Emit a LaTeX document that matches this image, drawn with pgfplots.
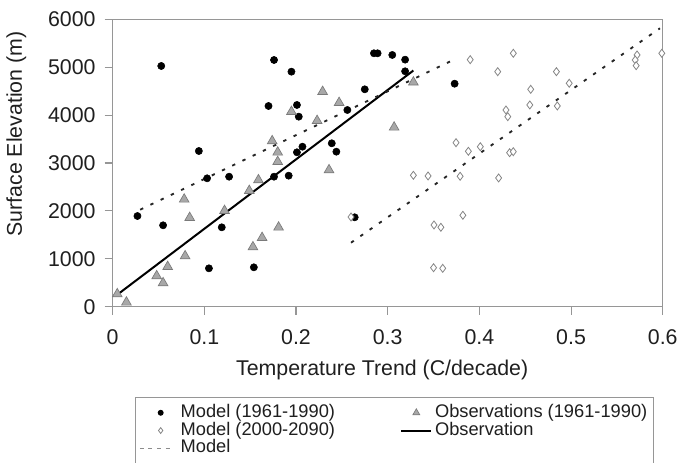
\documentclass[border=0pt]{standalone}
\usepackage{pgfplots}
\pgfplotsset{compat=1.18}
\usepackage{fontspec}
\setmainfont{Liberation Sans}
\definecolor{axgray}{HTML}{969696}
\definecolor{trifill}{HTML}{A8A8A8}
\definecolor{triedge}{HTML}{7A7A7A}
\definecolor{diaedge}{HTML}{858585}
\pgfplotsset{
  legcirc/.style={legend image code/.code={\draw[##1, mark size=1.8pt] plot coordinates {(15.7pt,0pt)}; \path (0pt,0pt) (28pt,0pt);}},
  legtri/.style={legend image code/.code={\draw[##1, mark size=3pt] plot coordinates {(11.2pt,0pt)}; \path (0pt,0pt) (22.5pt,0pt);}},
  legdia/.style={legend image code/.code={\draw[##1, mark size=2.2pt] plot coordinates {(15.7pt,0pt)}; \path (0pt,0pt) (28pt,0pt);}},
  legsolid/.style={legend image code/.code={\draw[##1] (0pt,0pt) -- (22.5pt,0pt);}},
  legdash/.style={legend image code/.code={\draw[black!45, line width=0.8pt, dash pattern=on 3pt off 3.5pt] (0pt,0pt) -- (25pt,0pt); \path (0pt,0pt) (28pt,0pt);}},
}
\begin{document}
\begin{tikzpicture}
\begin{axis}[
  at={(0pt,0pt)}, anchor=south west,
  scale only axis, width=412.5pt, height=215.55pt,
  xmin=0, xmax=0.6, ymin=0, ymax=6000,
  xtick={0,0.1,0.2,0.3,0.4,0.5,0.6},
  ytick={0,1000,2000,3000,4000,5000,6000},
  scaled x ticks=false, scaled y ticks=false,
  /pgf/number format/1000 sep={},
  /pgf/number format/assume math mode=true,
  tick align=outside, tick pos=left,
  major tick length=6pt,
  axis line style={axgray, line width=0.8pt},
  every tick/.style={axgray, line width=0.8pt},
  ticklabel style={font=\fontsize{16}{18}\selectfont, text=black!88},
  xticklabel style={yshift=-8pt},
  yticklabel style={xshift=-3.3pt},
  xlabel={Temperature Trend (C/decade)},
  ylabel={Surface Elevation (m)},
  label style={font=\fontsize{16}{19}\selectfont, text=black!88},
  xlabel style={at={(axis description cs:0.49,-0.2377)}, anchor=base},
  ylabel style={at={(axis description cs:-0.1753,0.601)}, anchor=center},
  legend columns=2,
  legend cell align=left,
  legend style={
    at={(axis description cs:0.0405,-0.3132)}, anchor=north west,
    draw=axgray, line width=0.8pt,
    font=\fontsize{13.7}{15}\selectfont,
    inner xsep=2.5pt, inner ysep=5pt,
    column sep=0pt, row sep=0pt,
    nodes={inner ysep=0.35pt, inner xsep=2pt, text height=9.8pt, text depth=2.8pt, text=black!88},
    /tikz/every even column/.append style={column sep=47pt},
  },
]
% Model (1961-1990)
\addplot[only marks, mark=*, mark size=2.7pt, black, legcirc]
coordinates {
(0.053,5025) (0.176,5150) (0.195,4906) (0.170,4190) (0.201,4211)
(0.203,3967) (0.094,3250) (0.201,3223) (0.103,2680) (0.127,2714)
(0.176,2714) (0.192,2735) (0.027,1893) (0.055,1699) (0.119,1657)
(0.105,801) (0.154,822) (0.285,5290) (0.289,5290) (0.305,5255)
(0.319,5157) (0.319,4914) (0.275,4538) (0.373,4655) (0.256,4106)
(0.207,3340) (0.239,3411) (0.244,3236) (0.264,1866)
};
\addlegendentry{Model (1961-1990)}
% Observations (1961-1990)
\addplot[only marks, mark=triangle*, mark size=4.2pt, draw=triedge, fill=trifill, line width=0.5pt, legtri]
coordinates {
(0.195,4071) (0.174,3459) (0.180,3223) (0.180,3027) (0.159,2645)
(0.149,2422) (0.078,2242) (0.084,1858) (0.122,2004) (0.181,1657)
(0.163,1440) (0.153,1246) (0.079,1058) (0.060,835) (0.048,641)
(0.055,495) (0.005,265) (0.015,92) (0.229,4489) (0.247,4259)
(0.223,3883) (0.307,3745) (0.328,4685) (0.236,2854)
};
\addlegendentry{Observations (1961-1990)}
% Model (2000-2090)
\addplot[only marks, mark=diamond*, mark size=3pt, draw=diaedge, fill=white, line width=0.6pt, legdia]
coordinates {
(0.390,5157) (0.420,4906) (0.3745,3424) (0.388,3244) (0.401,3340)
(0.328,2743) (0.344,2729) (0.379,2722) (0.421,2687) (0.382,1908)
(0.3505,1706) (0.358,1657) (0.350,814) (0.360,801) (0.260,1873)
(0.437,5290) (0.484,4906) (0.498,4664) (0.456,4538) (0.429,4106)
(0.431,3967) (0.455,4211) (0.485,4190) (0.433,3215) (0.437,3236)
(0.572,5255) (0.570,5150) (0.571,5031) (0.599,5290)
};
\addlegendentry{Model (2000-2090)}
% Observation trend line
\addplot[black, line width=1.5pt, no marks, legsolid]
coordinates {(0.005,250) (0.328,4930)};
\addlegendentry{Observation}
% Model trend line (1961-1990)
\addplot[black!85, line width=1.4pt, dash pattern=on 2.5pt off 6pt, no marks, legdash]
coordinates {(0.03,2025) (0.372,5155)};
\addlegendentry{Model}
% Model trend line (2000-2090)
\addplot[black!85, line width=1.4pt, dash pattern=on 2.5pt off 6pt, no marks, forget plot]
coordinates {(0.26,1336) (0.597,5812)};
\end{axis}
\pgfresetboundingbox
\path[use as bounding box] (-84.5pt,-117.2pt) rectangle (424.7pt,230pt);
\end{tikzpicture}
\end{document}
